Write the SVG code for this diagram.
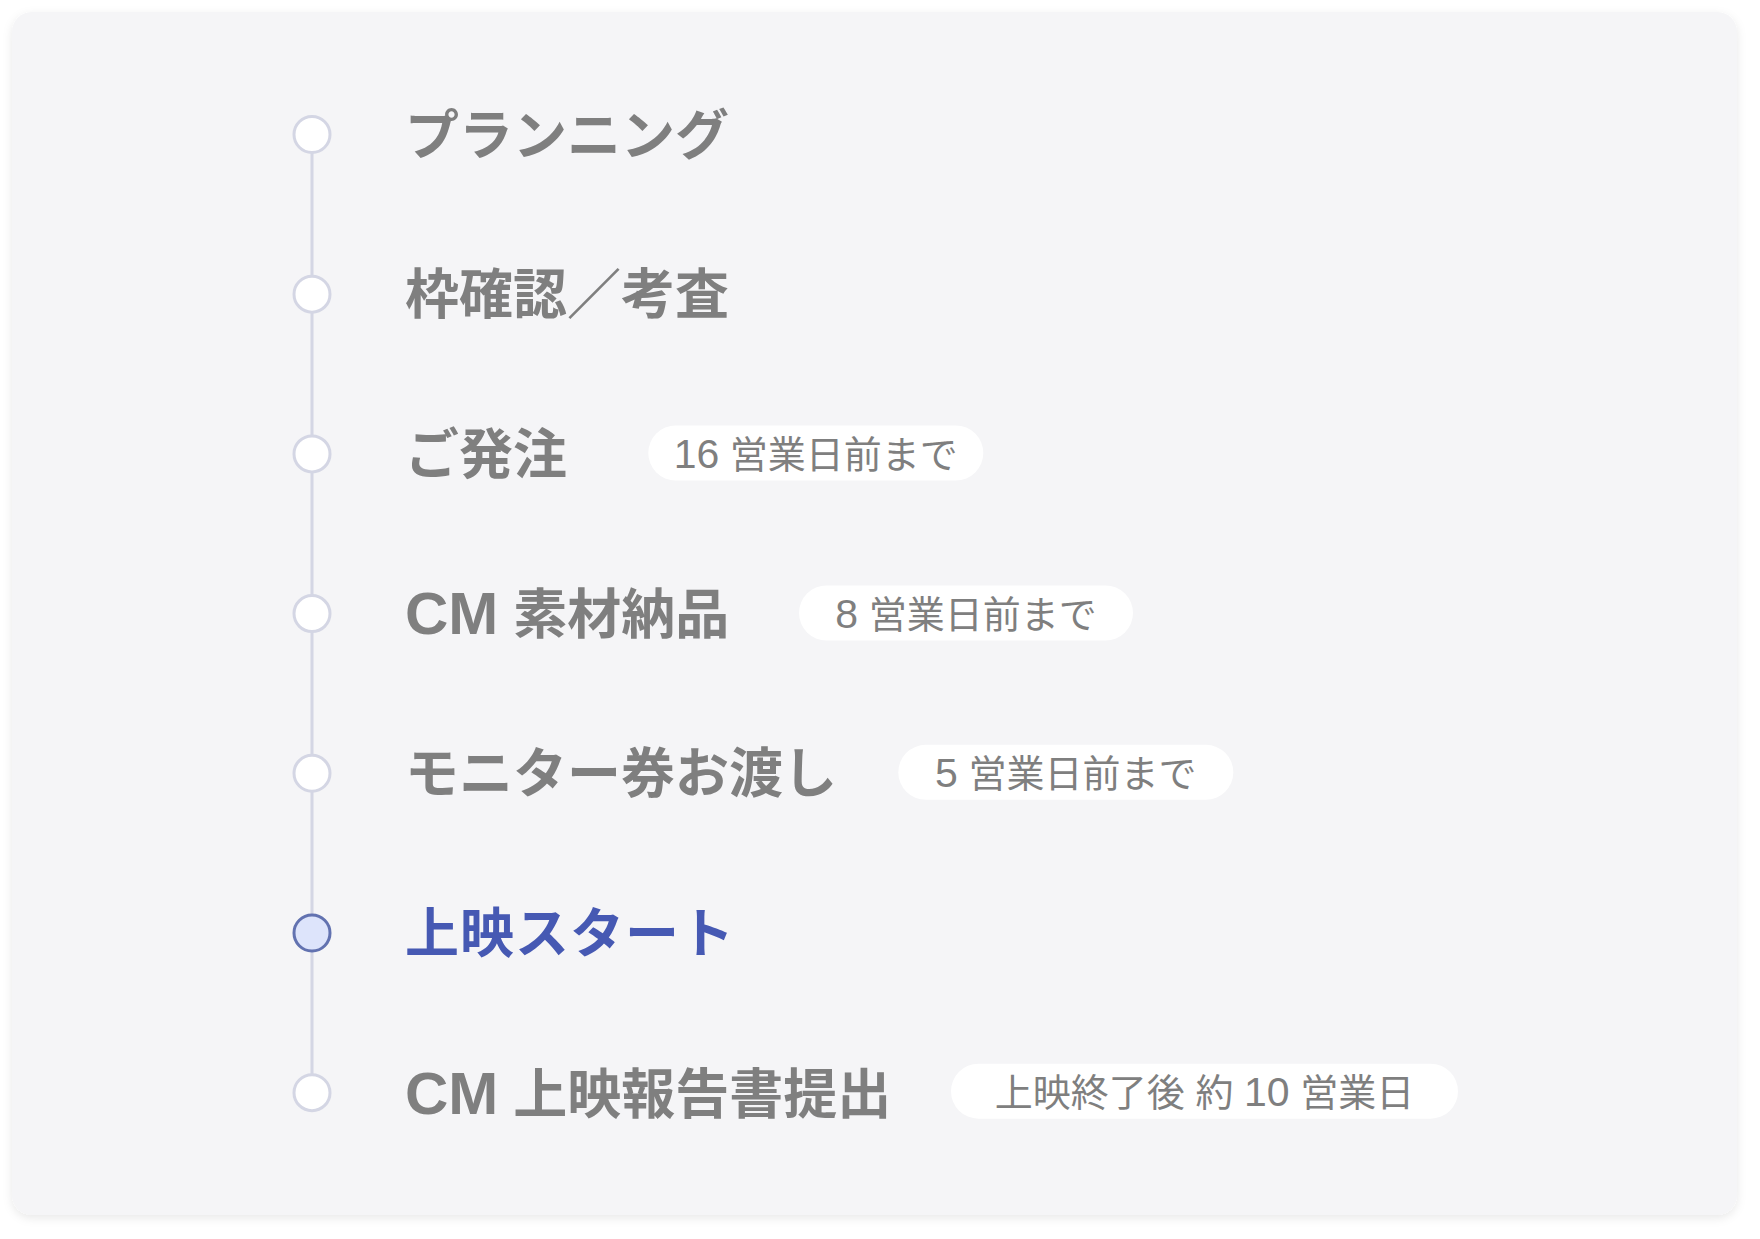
<svg xmlns="http://www.w3.org/2000/svg" width="1760" height="1239" viewBox="0 0 1760 1239">
<defs>
<filter id="sh" x="-5%" y="-5%" width="110%" height="110%">
<feDropShadow dx="0" dy="3" stdDeviation="5" flood-color="#000" flood-opacity="0.09"/>
</filter>
<style>
.title{font-family:"Liberation Sans","Noto Sans CJK JP",sans-serif;font-weight:700;font-size:54px;fill:#7f7f7f}
.title.active{fill:#4659b3}
.lat{font-size:60px}
.pill{fill:#ffffff}
.ptxt{font-family:"Liberation Sans","Noto Sans CJK JP",sans-serif;font-weight:400;font-size:38px;fill:#7f7f7f;text-anchor:middle}
.num{font-size:41px}
.dot{fill:#ffffff;stroke:#d4d6e4;stroke-width:3}
.dot.active{fill:#dde4fb;stroke:#6272b0}
.line{stroke:#d4d6e4;stroke-width:3;fill:none}
</style>
</defs>
<rect width="1760" height="1239" fill="#ffffff"/>
<rect id="card" x="12" y="12" width="1725" height="1203" rx="20" fill="#f5f5f7" filter="url(#sh)"/>
<g id="connectors">
<line class="line" x1="312" y1="134.5" x2="312" y2="1092.7"/>
</g>
<g id="step1">
<circle class="dot" cx="312" cy="134.5" r="18"/>
<text class="title" x="405" y="154.5">プランニング</text>
</g>
<g id="step2">
<circle class="dot" cx="312" cy="294.2" r="18"/>
<text class="title" x="405" y="314.2">枠確認／考査</text>
</g>
<g id="step3">
<circle class="dot" cx="312" cy="453.9" r="18"/>
<text class="title" x="405" y="473.9">ご発注</text>
<rect class="pill" x="648.3" y="425.5" width="335" height="55" rx="27.5"/>
<text class="ptxt" x="815.8" y="467.5"><tspan class="num">16</tspan> 営業日前まで</text>
</g>
<g id="step4">
<circle class="dot" cx="312" cy="613.6" r="18"/>
<text class="title" x="405" y="634"><tspan class="lat">CM</tspan> 素材納品</text>
<rect class="pill" x="799" y="585.5" width="334" height="55" rx="27.5"/>
<text class="ptxt" x="966" y="627.5"><tspan class="num">8</tspan> 営業日前まで</text>
</g>
<g id="step5">
<circle class="dot" cx="312" cy="773.3" r="18"/>
<text class="title" x="405" y="793.3">モニター券お渡し</text>
<rect class="pill" x="898.3" y="744.8" width="335" height="55" rx="27.5"/>
<text class="ptxt" x="1065.8" y="786.8"><tspan class="num">5</tspan> 営業日前まで</text>
</g>
<g id="step6">
<circle class="dot active" cx="312" cy="933" r="18"/>
<text class="title active" x="405" y="953" letter-spacing="1">上映スタート</text>
</g>
<g id="step7">
<circle class="dot" cx="312" cy="1092.7" r="18"/>
<text class="title" x="405" y="1113.5"><tspan class="lat">CM</tspan> 上映報告書提出</text>
<rect class="pill" x="951" y="1063.7" width="507" height="55" rx="27.5"/>
<text class="ptxt" x="1204.5" y="1105.7">上映終了後 約 <tspan class="num">10</tspan> 営業日</text>
</g>
</svg>
